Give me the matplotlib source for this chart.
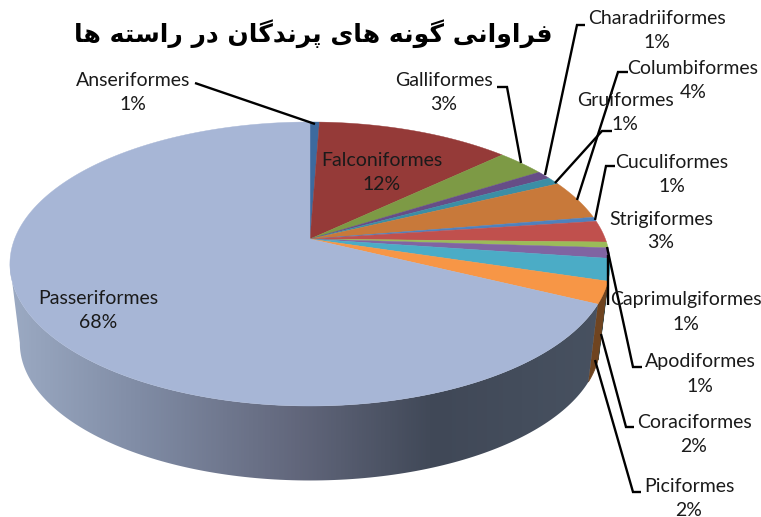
"""
Bird orders pie chart, tilted 3D look with perspective
"""
import numpy as np
import matplotlib
matplotlib.use("Agg")
import matplotlib.pyplot as plt
from matplotlib.colors import LinearSegmentedColormap, to_rgb
from matplotlib.patches import Polygon

# data
orders = ["Anseriformes", "Falconiformes", "Galliformes", "Charadriiformes", "Gruiformes",
          "Columbiformes", "Cuculiformes", "Strigiformes", "Caprimulgiformes", "Apodiformes",
          "Coraciformes", "Piciformes", "Passeriformes"]
values = [0.6, 12.4, 3.1, 0.95, 0.85, 4.5, 0.5, 2.45, 0.65, 1.2, 2.5, 2.5, 67.8]
percent_labels = ["1%", "12%", "3%", "1%", "1%", "4%", "1%", "3%", "1%", "1%", "2%", "2%", "68%"]
colors = ["#3d6a9e", "#953a38", "#7d9a45", "#664d87", "#3b8ea5", "#c8793a", "#4f81bd",
          "#c0504d", "#9bbb59", "#8064a2", "#4bacc6", "#f79646", "#a7b6d6"]
title = "فراوانی گونه های پرندگان در راسته ها"

# label centres, pixels
label_pos = {
    "Anseriformes": (133, 81), "Falconiformes": (382, 161), "Galliformes": (444, 81),
    "Charadriiformes": (657, 19), "Gruiformes": (625, 101), "Columbiformes": (693, 68),
    "Cuculiformes": (672, 162), "Strigiformes": (661, 219), "Caprimulgiformes": (686, 300),
    "Apodiformes": (700, 362), "Coraciformes": (694, 422), "Piciformes": (689, 486),
    "Passeriformes": (98, 298),
}
leaders = [
    [(195, 83), (315, 124)],
    [(497, 87), (507, 87), (521, 163)],
    [(585, 25), (577, 25), (545, 175)],
    [(628, 72), (618, 72), (577, 200)],
    [(612, 131), (602, 131), (555, 183)],
    [(615, 166), (606, 166), (595, 220)],
    [(608, 255), (608, 305)],
    [(607, 247), (633, 367), (642, 367)],
    [(601, 334), (626, 427), (634, 427)],
    [(595, 360), (633, 492), (641, 492)],
]

# forms: isolated, final, initial, medial
FORMS = {
    "ف": "\ufed1\ufed2\ufed3\ufed4", "ن": "\ufee5\ufee6\ufee7\ufee8",
    "ی": "\ufbfc\ufbfd\ufbfe\ufbff", "گ": "\ufb92\ufb93\ufb94\ufb95",
    "ه": "\ufee9\ufeea\ufeeb\ufeec", "پ": "\ufb56\ufb57\ufb58\ufb59",
    "س": "\ufeb1\ufeb2\ufeb3\ufeb4", "ت": "\ufe95\ufe96\ufe97\ufe98",
    "ر": "\ufead\ufeae", "ا": "\ufe8d\ufe8e", "و": "\ufeed\ufeee", "د": "\ufea9\ufeaa",
}


def shape_rtl(text):
    """matplotlib has no Arabic shaping, so pick the glyph forms and reverse"""
    out = []
    for i, ch in enumerate(text):
        if ch not in FORMS:
            out.append(ch)
            continue
        prev = text[i - 1] if i > 0 else " "
        nxt = text[i + 1] if i + 1 < len(text) else " "
        joins_prev = prev in FORMS and len(FORMS[prev]) == 4
        joins_next = len(FORMS[ch]) == 4 and nxt in FORMS
        idx = {(False, False): 0, (True, False): 1, (False, True): 2, (True, True): 3}[(joins_prev, joins_next)]
        out.append(FORMS[ch][idx])
    return "".join(reversed(out))


def top_point(theta):
    """clockwise angle from 12 o'clock to pixel on the top face"""
    x, y = np.sin(theta), np.cos(theta)
    d = 1 + 0.176 * y
    return 295.4 * x / d, 137.6 * y / d


fig = plt.figure(figsize=(7.61, 5.17), dpi=100)
ax = fig.add_axes([0, 0, 1, 1])

cx, cy = 310, 239
bottom_cy = 319
scale = 0.967
edges = np.radians(np.concatenate([[0], np.cumsum(values)]) * 3.6)

# side wall first, only the part facing us (stops at the silhouette tangents)
wall_from, wall_to = np.radians(106), np.radians(260)
for i in range(len(values)):
    start, end = max(edges[i], wall_from), min(edges[i + 1], wall_to)
    if end <= start:
        continue
    grid = np.linspace(start, end, max(int(np.degrees(end - start)), 2) + 1)
    px, py = top_point(grid)
    wall_x = np.r_[cx + px, cx + px[::-1] * scale]
    wall_y = np.r_[cy - py, bottom_cy - py[::-1] * scale]
    if i == len(values) - 1:
        # big slice has a left to right gradient
        wall_cmap = LinearSegmentedColormap.from_list(
            "wall", [(0, "#9cabc4"), (0.22, "#808ca5"), (0.48, "#62677c"), (0.71, "#404857"), (1, "#485261")])
        im = ax.imshow(np.linspace(0, 1, 600).reshape(1, -1), cmap=wall_cmap, extent=(5, 610, 500, 240),
                       aspect="auto", zorder=1)
        clip = Polygon(np.c_[wall_x, wall_y], closed=True, transform=ax.transData)
        im.set_clip_path(clip)
    else:
        col = [c * 0.45 for c in to_rgb(colors[i])]
        ax.fill(wall_x, wall_y, color=col, lw=0.5, zorder=1)

# top face
for i in range(len(values)):
    grid = np.linspace(edges[i], edges[i + 1], max(int(np.degrees(edges[i + 1] - edges[i])) * 2, 4))
    px, py = top_point(grid)
    ax.fill(np.r_[cx, cx + px], np.r_[cy, cy - py], color=colors[i], lw=0.3, zorder=2)

for line in leaders:
    xs, ys = zip(*line)
    ax.plot(xs, ys, color="black", lw=1.7, zorder=3, solid_capstyle="butt", solid_joinstyle="miter")

for name, pct in zip(orders, percent_labels):
    lx, ly = label_pos[name]
    ax.text(lx, ly, name, ha="center", va="center", family="Lato", fontsize=14, color="#1a1a1a", zorder=4)
    ax.text(lx, ly + 24, pct, ha="center", va="center", family="Lato", fontsize=14, color="#1a1a1a", zorder=4)

ax.text(313, 34, shape_rtl(title), ha="center", va="center", family="DejaVu Sans",
        fontweight="bold", fontsize=18, color="black", zorder=4)

ax.set_xlim(0, 761)
ax.set_ylim(517, 0)
ax.axis("off")

plt.savefig("out.png", dpi=100)
